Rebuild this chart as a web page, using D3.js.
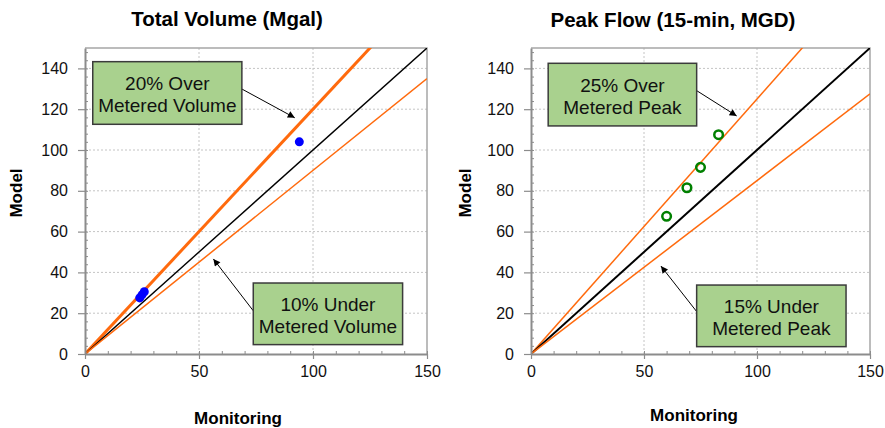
<!DOCTYPE html>
<html>
<head>
<meta charset="utf-8">
<script src="https://cdn.jsdelivr.net/npm/d3@7"></script>
<style>
  body { margin: 0; background: #fff; }
  svg { display: block; font-family: Arial, "Liberation Sans", sans-serif; }
</style>
</head>
<body>
<div id="chart"></div>
<script>
// data
var volMonitoring = [24, 25, 26, 94];
var volModel      = [27.5, 29, 30.5, 104];
var peakMonitoring = [60, 69, 75, 83];
var peakModel      = [67.5, 81.5, 91.5, 107.5];

// model = factor * monitoring reference lines
var volFactors  = [1.2, 1.0, 0.9];
var peakFactors = [1.25, 1.0, 0.85];

var xTicks = [0, 50, 100, 150];
var yTicks = [0, 20, 40, 60, 80, 100, 120, 140];

var WIDTH = 885, HEIGHT = 428;
var ORANGE = '#ff6a0d';

var svg = d3.select('#chart').append('svg')
    .attr('width', WIDTH)
    .attr('height', HEIGHT);

var defs = svg.append('defs');
defs.append('marker')
    .attr('id', 'arrow')
    .attr('viewBox', '0 0 10 10')
    .attr('refX', 10).attr('refY', 5)
    .attr('markerWidth', 13).attr('markerHeight', 7)
    .attr('markerUnits', 'userSpaceOnUse')
    .attr('orient', 'auto')
  .append('path')
    .attr('d', 'M0,0 L10,5 L0,10 z')
    .attr('fill', '#000');

var charts = [
  {
    id: 'vol', title: 'Total Volume (Mgal)', titleX: 227, titleY: 26,
    left: 85, right: 427, yLabelX: 22, xLabelX: 238, xLabelY: 424,
    xs: volMonitoring, ys: volModel, factors: volFactors,
    lineWidths: [3, 1.4, 1.5], lineColors: [ORANGE, '#000', ORANGE],
    marker: 'dot',
    notes: [
      { lines: ['20% Over', 'Metered Volume'], box: [3.4, 143.3, 68.8, 112.6], from: [68.8, 129.9], to: [92, 115.8] },
      { lines: ['10% Under', 'Metered Volume'], box: [73.8, 34.8, 139.3, 4.6], from: [73.8, 21.2], to: [56.3, 46.6] }
    ]
  },
  {
    id: 'peak', title: 'Peak Flow (15-min, MGD)', titleX: 673, titleY: 27,
    left: 531, right: 870, yLabelX: 471, xLabelX: 694, xLabelY: 421,
    xs: peakMonitoring, ys: peakModel, factors: peakFactors,
    lineWidths: [1.5, 2, 1.5], lineColors: [ORANGE, '#000', ORANGE],
    marker: 'ring',
    notes: [
      { lines: ['25% Over', 'Metered Peak'], box: [7.6, 142.5, 73.3, 111.8], from: [73.3, 129.1], to: [91, 116.7] },
      { lines: ['15% Under', 'Metered Peak'], box: [73.3, 33.8, 139.4, 3.6], from: [73.3, 20.8], to: [57.5, 43.1] }
    ]
  }
];

var TOP = 48, BOTTOM = 354;

charts.forEach(function(c){
    var x = d3.scaleLinear().domain([0, 150]).range([c.left, c.right]);
    var y = d3.scaleLinear().domain([0, 150]).range([BOTTOM, TOP]);

    var g = svg.append('g').attr('class', c.id);

    // clip for reference lines
    defs.append('clipPath').attr('id', 'clip-' + c.id)
      .append('rect')
        .attr('x', c.left).attr('y', TOP)
        .attr('width', c.right - c.left).attr('height', BOTTOM - TOP);

    // gridlines
    g.append('g').selectAll('line.gx')
        .data(xTicks.filter(function(d){ return d > 0 && d < 150; }))
        .enter().append('line')
        .attr('x1', x).attr('x2', x)
        .attr('y1', TOP).attr('y2', BOTTOM)
        .attr('stroke', '#c4c4c4').attr('stroke-dasharray', '2,2');
    g.append('g').selectAll('line.gy')
        .data(yTicks.filter(function(d){ return d > 0; }))
        .enter().append('line')
        .attr('y1', y).attr('y2', y)
        .attr('x1', c.left).attr('x2', c.right)
        .attr('stroke', '#c4c4c4').attr('stroke-dasharray', '2,2');

    // top / right border
    g.append('path')
        .attr('d', 'M' + c.left + ',' + TOP + 'H' + c.right + 'V' + BOTTOM)
        .attr('fill', 'none').attr('stroke', '#a6a6a6').attr('stroke-width', 1.5);

    // reference lines
    var lines = g.append('g').attr('clip-path', 'url(#clip-' + c.id + ')');
    c.factors.forEach(function(f, i){
        lines.append('line')
            .attr('x1', x(0)).attr('y1', y(0))
            .attr('x2', x(150)).attr('y2', y(150 * f))
            .attr('stroke', c.lineColors[i])
            .attr('stroke-width', c.lineWidths[i]);
    });

    // axes
    var xMinor = d3.axisBottom(x).tickValues(d3.range(0, 151, 10))
        .tickSize(-3).tickFormat('');
    var yMinor = d3.axisLeft(y).tickValues(d3.range(0, 151, 4))
        .tickSize(-3).tickFormat('');
    g.append('g').attr('transform', 'translate(0,' + BOTTOM + ')').call(xMinor)
        .call(function(s){ s.select('.domain').remove(); s.selectAll('line').attr('stroke', '#8c8c8c'); });
    g.append('g').attr('transform', 'translate(' + c.left + ',0)').call(yMinor)
        .call(function(s){ s.select('.domain').remove(); s.selectAll('line').attr('stroke', '#8c8c8c'); });

    var xAxis = d3.axisBottom(x).tickValues(xTicks).tickSize(5).tickSizeOuter(0).tickPadding(7);
    var yAxis = d3.axisLeft(y).tickValues(yTicks).tickSize(7).tickSizeOuter(0).tickPadding(10);

    var gx = g.append('g').attr('transform', 'translate(0,' + BOTTOM + ')').call(xAxis);
    var gy = g.append('g').attr('transform', 'translate(' + c.left + ',0)').call(yAxis);
    [gx, gy].forEach(function(a){
        a.select('.domain').attr('stroke', '#8c8c8c').attr('stroke-width', 2);
        a.selectAll('.tick line').attr('stroke', '#8c8c8c').attr('stroke-width', 1.2);
        a.selectAll('.tick text').attr('font-size', 16).attr('fill', '#111')
            .attr('font-family', 'Arial, "Liberation Sans", sans-serif');
    });

    // points
    var pts = g.append('g').selectAll('circle')
        .data(c.xs.map(function(v, i){ return [v, c.ys[i]]; }))
        .enter().append('circle')
        .attr('cx', function(d){ return x(d[0]); })
        .attr('cy', function(d){ return y(d[1]); });
    if (c.marker === 'dot') {
        pts.attr('r', 4.5).attr('fill', '#0000ff');
    } else {
        pts.attr('r', 4.3).attr('fill', 'none').attr('stroke', '#008000').attr('stroke-width', 2.5);
    }

    // annotation callouts
    c.notes.forEach(function(n){
        g.append('line')
            .attr('x1', x(n.from[0])).attr('y1', y(n.from[1]))
            .attr('x2', x(n.to[0])).attr('y2', y(n.to[1]))
            .attr('stroke', '#000').attr('stroke-width', 1)
            .attr('marker-end', 'url(#arrow)');
        var bx = x(n.box[0]), by = y(n.box[1]),
            bw = x(n.box[2]) - bx, bh = y(n.box[3]) - by;
        g.append('rect')
            .attr('x', bx).attr('y', by).attr('width', bw).attr('height', bh)
            .attr('fill', '#a9d18e').attr('stroke', '#3b3b3b').attr('stroke-width', 1.5);
        g.append('text')
            .attr('x', bx + bw / 2).attr('y', by + bh / 2 - 3)
            .attr('text-anchor', 'middle').attr('font-size', 19).attr('fill', '#111')
            .selectAll('tspan').data(n.lines).enter().append('tspan')
            .attr('x', bx + bw / 2)
            .attr('dy', function(d, i){ return i === 0 ? '0' : '22'; })
            .text(function(d){ return d; });
    });

    // titles and axis labels
    svg.append('text')
        .attr('x', c.titleX).attr('y', c.titleY)
        .attr('text-anchor', 'middle').attr('font-size', 20.5).attr('font-weight', 'bold')
        .text(c.title);
    svg.append('text')
        .attr('transform', 'translate(' + c.yLabelX + ',' + 193 + ') rotate(-90)')
        .attr('text-anchor', 'middle').attr('font-size', 17).attr('font-weight', 'bold')
        .text('Model');
    svg.append('text')
        .attr('x', c.xLabelX).attr('y', c.xLabelY)
        .attr('text-anchor', 'middle').attr('font-size', 17).attr('font-weight', 'bold')
        .text('Monitoring');
});
</script>
</body>
</html>
